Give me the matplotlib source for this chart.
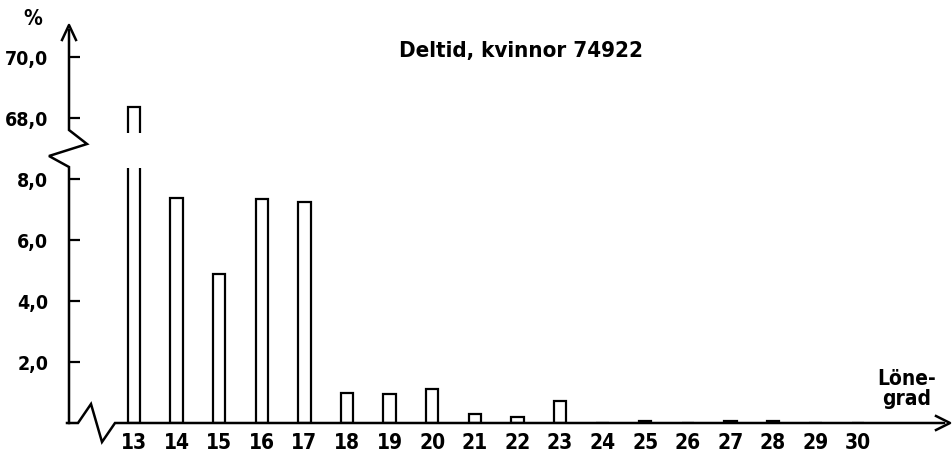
import matplotlib
matplotlib.use("Agg")
import matplotlib.pyplot as plt
from matplotlib.lines import Line2D

# ---- data ----
grades = [13, 14, 15, 16, 17, 18, 19, 20, 21, 22, 23, 24, 25, 26, 27, 28, 29, 30]
percent = [68.35, 7.38, 4.88, 7.34, 7.25, 0.98, 0.95, 1.10, 0.30, 0.20, 0.72,
           0.0, 0.05, 0.0, 0.05, 0.05, 0.0, 0.0]
low_ticks = [2.0, 4.0, 6.0, 8.0]
high_ticks = [68.0, 70.0]
title = "Deltid, kvinnor 74922"
xlabel = "Löne-\ngrad"
ylabel = "%"

W, H = 952, 461
fig = plt.figure(figsize=(W / 100, H / 100), dpi=100)
plt.rcParams['font.family'] = ['DejaVu Sans']
FONT = dict(fontweight='bold', fontstretch='condensed')

def fx(px):
    return px / W

def fy(py):
    return 1 - py / H

# pixel geometry
x_left, x_right = 69, 950
base_y = 423
ppu_y = 30.5          # pixels per % unit
x13, ppu_x = 134, 42.6

xlim = (13 - (x13 - x_left) / ppu_x, 13 + (x_right - x13) / ppu_x)

low_top = 168
ax_lo = fig.add_axes([fx(x_left), fy(base_y), fx(x_right) - fx(x_left), (base_y - low_top) / H])
ax_lo.set_xlim(*xlim)
ax_lo.set_ylim(0, (base_y - low_top) / ppu_y)

hi_bot, hi_top = 133, 25
ax_hi = fig.add_axes([fx(x_left), fy(hi_bot), fx(x_right) - fx(x_left), (hi_bot - hi_top) / H])
ax_hi.set_xlim(*xlim)
ax_hi.set_ylim(68 - (hi_bot - 118) / ppu_y, 68 + (118 - hi_top) / ppu_y)

for ax in (ax_lo, ax_hi):
    ax.patch.set_alpha(0)
    for s in ax.spines.values():
        s.set_visible(False)
    ax.bar(grades, percent, width=0.29, facecolor='white', edgecolor='black',
           linewidth=1.6, zorder=3)
    ax.tick_params(axis='y', direction='in', length=8, width=1.6, pad=15,
                   labelsize=14)
    ax.tick_params(axis='x', length=0)

ax_lo.set_yticks(low_ticks)
ax_lo.set_yticklabels([f"{v:.1f}".replace('.', ',') for v in low_ticks], **FONT)
ax_hi.set_yticks(high_ticks)
ax_hi.set_yticklabels([f"{v:.1f}".replace('.', ',') for v in high_ticks], **FONT)
ax_hi.set_xticks([])
ax_lo.set_xticks(grades)
ax_lo.set_xticklabels([str(g) for g in grades], fontsize=15, **FONT)
ax_lo.tick_params(axis='x', pad=7)

# ---- axis lines with breaks (decoration, pixel coords) ----
lw = 1.8
def poly(pts):
    fig.add_artist(Line2D([fx(p[0]) for p in pts], [fy(p[1]) for p in pts],
                          color='black', lw=lw, solid_joinstyle='miter'))

# y axis with zigzag break
poly([(69, 423), (69, 167), (49, 156), (87, 144), (69, 130), (69, 30)])
# x axis with zigzag break
poly([(67, 423), (78, 423), (91, 404), (102, 442), (115, 423), (944, 423)])

# arrow heads
fig.add_artist(Line2D([fx(62), fx(69), fx(76)], [fy(40), fy(25), fy(40)],
                      color='black', lw=lw))
fig.add_artist(Line2D([fx(936), fx(950), fx(936)], [fy(416), fy(423), fy(430)],
                      color='black', lw=lw))

fig.text(fx(33), fy(19), ylabel, ha='center', va='center', fontsize=15, **FONT)
fig.text(fx(521), fy(51), title, ha='center', va='center', fontsize=16, **FONT)
fig.text(fx(907), fy(389), xlabel, ha='center', va='center', fontsize=15,
         linespacing=1.0, **FONT)

fig.savefig("out.png", dpi=100)
